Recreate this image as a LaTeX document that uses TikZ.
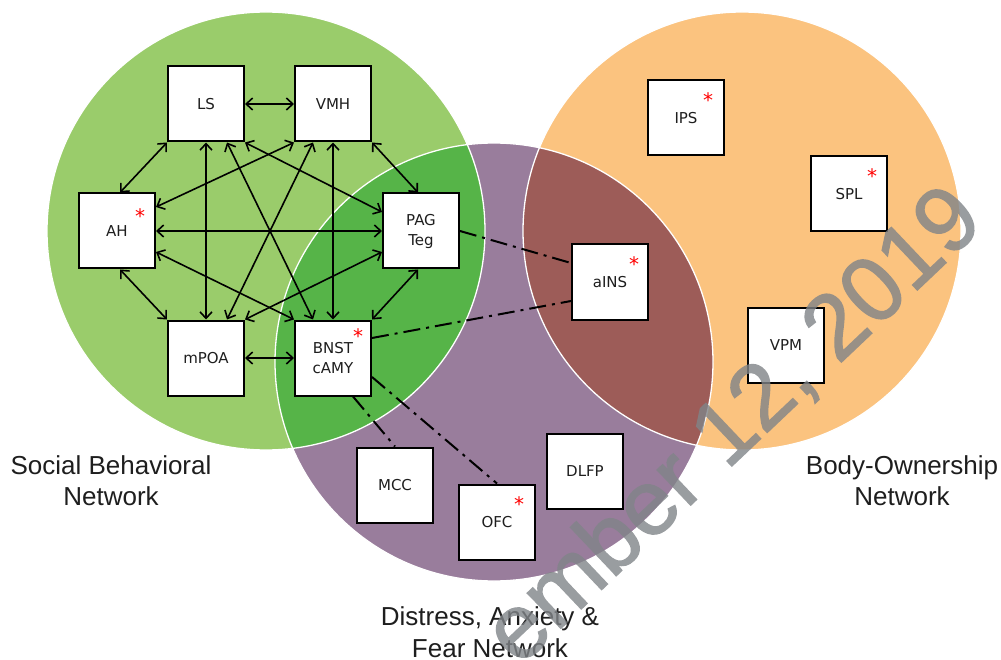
\documentclass[tikz,border=0pt]{standalone}
\usepackage{fontspec}
\setmainfont{Liberation Sans}
\newfontfamily\boxfont{DejaVu Sans}
\newfontfamily\wmfont[FakeBold=1.5]{Liberation Sans}
\usetikzlibrary{arrows.meta}
\definecolor{lgreen}{RGB}{154,204,107}
\definecolor{dgreen}{RGB}{86,180,72}
\definecolor{purp}{RGB}{153,125,156}
\definecolor{brownov}{RGB}{157,92,88}
\definecolor{orng}{RGB}{251,195,127}
\definecolor{txt}{RGB}{30,30,30}
\definecolor{wmark}{RGB}{128,132,136}
\begin{document}
\begin{tikzpicture}[x=1pt,y=-1pt,
  area/.style={draw=black,line width=2pt,fill=white,minimum width=76pt,minimum height=75pt,
    inner sep=0pt,font=\boxfont\fontsize{15}{20}\selectfont,text=txt,align=center},
  redast/.style={inner sep=0pt,text=red,font=\boxfont\fontsize{20}{20}\selectfont},
  biarr/.style={line width=1.6pt,{Straight Barb[length=6.5pt,width=12pt]}-{Straight Barb[length=6.5pt,width=12pt]}},
  linkdd/.style={line width=2pt,dash pattern=on 17pt off 6pt on 3pt off 6pt},
  lab/.style={inner sep=0pt,align=center,text=txt,font=\fontsize{26}{31}\selectfont},
  ring/.style={white,line width=1.3pt}]
\useasboundingbox (0,0) rectangle (1001,660);
% circles
\fill[lgreen] (266,231) circle[radius=219];
\fill[orng] (742,231) circle[radius=219];
\fill[purp] (494,362) circle[radius=219];
\begin{scope}
  \clip (494,362) circle[radius=219];
  \fill[dgreen] (266,231) circle[radius=219];
  \fill[brownov] (742,231) circle[radius=219];
\end{scope}
\draw[ring] (266,231) circle[radius=219];
\draw[ring] (742,231) circle[radius=219];
\draw[ring] (494,362) circle[radius=219];

% boxes
\node[area] (LS)   at (206,104) {LS};
\node[area] (VMH)  at (333,104) {VMH};
\node[area] (AH)   at (117,231) {AH};
\node[area] (PAG)  at (421,231) {PAG\\Teg};
\node[area] (mPOA) at (206,358) {mPOA};
\node[area] (BNST) at (333,358) {BNST\\cAMY};
\node[area] (aINS) at (610,282) {aINS};
\node[area] (MCC)  at (395,485) {MCC};
\node[area] (OFC)  at (497,522) {OFC};
\node[area] (DLFP) at (585,471) {DLFP};
\node[area] (IPS)  at (686,118) {IPS};
\node[area] (SPL)  at (849,194) {SPL};
\node[area] (VPM)  at (786,345) {VPM};

% asterisks
\node[redast] (sAH)   at (140,215.6) {*};
\node[redast] (sBNST) at (358,335.6) {*};
\node[redast] (saINS) at (634,263.6) {*};
\node[redast] (sOFC)  at (519,503.6) {*};
\node[redast] (sIPS)  at (708,99.6) {*};
\node[redast] (sSPL)  at (872,175.6) {*};

% arrows
\draw[biarr] (LS.east) -- (VMH.west);
\draw[biarr] (LS.south west) -- ([xshift=3pt]AH.north);
\draw[biarr] (VMH.south east) -- ([xshift=-3pt]PAG.north);
\draw[biarr] ([xshift=3pt]AH.south) -- (mPOA.north west);
\draw[biarr] ([xshift=-3pt]PAG.south) -- (BNST.north east);
\draw[biarr] (mPOA.east) -- (BNST.west);
\draw[biarr] (AH.east) -- (PAG.west);
\draw[biarr] (LS.south) -- (mPOA.north);
\draw[biarr] (VMH.south) -- (BNST.north);
\draw[biarr] ([xshift=21pt]LS.south) -- ([xshift=-20pt]BNST.north);
\draw[biarr] ([xshift=-20pt]VMH.south) -- ([xshift=21pt]mPOA.north);
\draw[biarr] (VMH.south west) -- ([yshift=24pt]AH.east);
\draw[biarr] (LS.south east) -- ([yshift=19pt]PAG.west);
\draw[biarr] ([yshift=-21pt]AH.east) -- (BNST.north west);
\draw[biarr] (mPOA.north east) -- ([yshift=-21pt]PAG.west);

% dash-dot links
\draw[linkdd] (PAG.east) -- ([yshift=19pt]aINS.west);
\draw[linkdd] ([yshift=20pt]BNST.east) -- ([yshift=-19pt]aINS.west);
\draw[linkdd] ([xshift=20pt]BNST.south) -- (MCC.north);
\draw[linkdd] ([yshift=-19pt]BNST.east) -- (OFC.north);

% labels
\node[lab] (sbn) at (111,481) {Social Behavioral\\Network};
\node[lab] (bon) at (902,481) {Body-Ownership\\Network};
\node[lab,font=\fontsize{26}{32}\selectfont] (daf) at (490,632) {Distress, Anxiety \&\\Fear Network};

% watermark
\begin{scope}[transparency group,opacity=0.8]
\node[rotate=43.5,anchor=base west,inner sep=0pt,text=wmark,
  font=\wmfont\fontsize{92}{92}\selectfont] (wm) at (519,668) {ember 12, 2019};
\end{scope}
\end{tikzpicture}
\end{document}
